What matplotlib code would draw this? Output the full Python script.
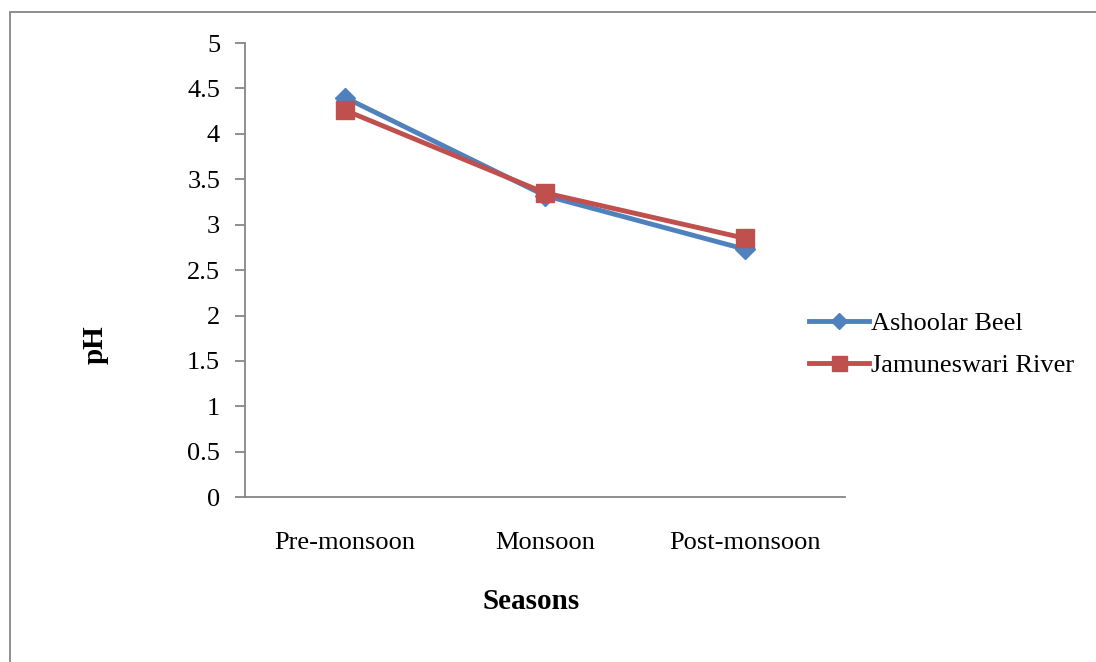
import matplotlib.pyplot as plt
from matplotlib.patches import Rectangle

# data
seasons = ['Pre-monsoon', 'Monsoon', 'Post-monsoon']
ashoolar_beel = [4.40, 3.32, 2.73]
jamuneswari_river = [4.26, 3.35, 2.85]
y_ticks = [0, 0.5, 1, 1.5, 2, 2.5, 3, 3.5, 4, 4.5, 5]

plt.rcParams['font.family'] = ['Liberation Serif', 'DejaVu Serif']

fig = plt.figure(figsize=(10.96, 6.62), dpi=100)
ax = fig.add_axes([0.2236, 0.249, 0.5474, 0.686])

# outer chart border (right / bottom edges run off the picture)
fig.patches.append(Rectangle((10 / 1096, -0.1), 1.2, 1 - 12 / 662 + 0.1,
                             transform=fig.transFigure, fill=False,
                             edgecolor='#868686', linewidth=1.3))

x = range(len(seasons))
ax.plot(x, ashoolar_beel, color='#4F81BD', linewidth=3.5, marker='D',
        markersize=10, label='Ashoolar Beel', zorder=3)
ax.plot(x, jamuneswari_river, color='#C0504D', linewidth=3.5, marker='s',
        markersize=13.5, label='Jamuneswari River', zorder=4)

ax.set_xlim(-0.5, 2.5)
ax.set_ylim(0, 5)
ax.set_yticks(y_ticks)
ax.set_yticklabels([f'{v:g}' for v in y_ticks])
ax.set_xticks(list(x))
ax.set_xticklabels(seasons)

for side in ['top', 'right']:
    ax.spines[side].set_visible(False)
for side in ['left', 'bottom']:
    ax.spines[side].set_color('#868686')
    ax.spines[side].set_linewidth(1.3)

ax.tick_params(axis='y', direction='out', length=7, width=1.3, color='#868686',
               labelsize=19, pad=11)
ax.tick_params(axis='x', length=0, labelsize=19, pad=25)

ax.set_xlabel('Seasons', fontsize=21, fontweight='bold')
ax.xaxis.set_label_coords(0.477, -0.229)
ax.xaxis.label.set_va('center')
ax.set_ylabel('pH', fontsize=21, fontweight='bold')
ax.yaxis.set_label_coords(-0.25, 0.335)
ax.yaxis.label.set_va('center')

ax.legend(loc='center left', bbox_to_anchor=(0.9, 0.337), frameon=False,
          fontsize=19, handlelength=2.3, handletextpad=0.05, markerscale=0.8,
          labelspacing=0.7)

fig.savefig('out.png', dpi=100)
